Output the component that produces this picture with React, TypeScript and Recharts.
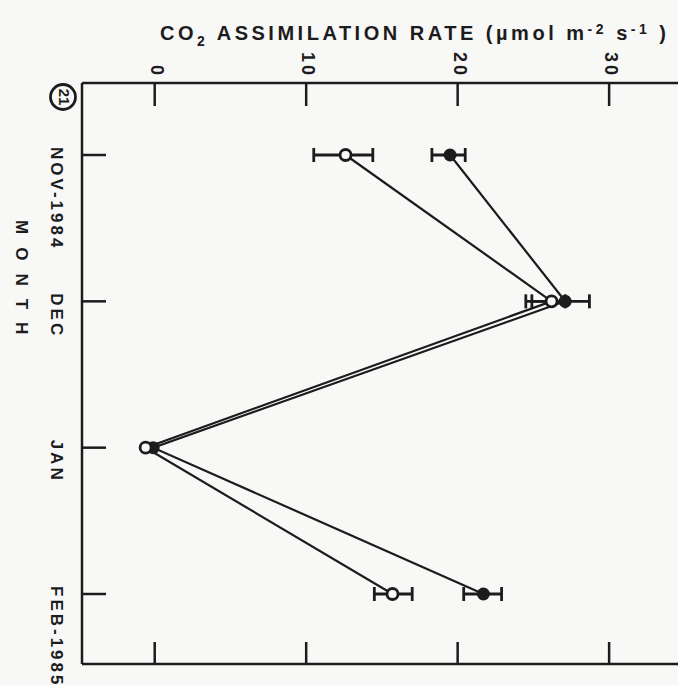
import { ComposedChart, ErrorBar, Line, XAxis, YAxis } from "recharts";

const months = ["NOV-1984", "DEC", "JAN", "FEB-1985"];
// open circles
const openRate = [12.6, 26.2, -0.6, 15.7];
const openErr: ([number, number] | null)[] = [[2.1, 1.8], [1.7, 0.9], null, [1.2, 1.3]];
// filled circles
const filledRate = [19.5, 27.1, -0.1, 21.7];
const filledErr: ([number, number] | null)[] = [[1.2, 1.0], [2.2, 1.6], null, [1.3, 1.2]];
const rateTicks = [0, 10, 20, 30];

const data = months.map((m, i) => ({
  month: m,
  open: openRate[i],
  openErr: openErr[i],
  filled: filledRate[i],
  filledErr: filledErr[i],
}));

const W = 720;
const H = 685;
// plot box: left 82, top 83, bottom 664
const TOP_H = 30;
const LEFT_W = 30;
const BOT_H = 20;
const M = { top: 83 - TOP_H, right: 20, bottom: 21 - BOT_H, left: 82 - LEFT_W };
const PLOT_TOP = 83;
const PLOT_BOTTOM = 664;
const PLOT_LEFT = 82;
const INK = "#1c1c1c";
const BG = "#f8f8f7";
const FONT = "'Liberation Sans', Arial, sans-serif";

const TopTick = ({ x, payload }: any) => (
  <g>
    <line x1={x} x2={x} y1={PLOT_TOP} y2={PLOT_TOP + 23} stroke={INK} strokeWidth={2.5} />
    <text
      x={x + 2}
      y={78}
      transform={`rotate(90, ${x + 2}, 78)`}
      textAnchor="end"
      dominantBaseline="central"
      fontFamily={FONT}
      fontWeight={700}
      fontSize={18}
      letterSpacing={3}
      fill={INK}
    >
      {payload.value}
    </text>
  </g>
);

const BottomTick = ({ x }: any) => (
  <line x1={x} x2={x} y1={PLOT_BOTTOM} y2={PLOT_BOTTOM - 22} stroke={INK} strokeWidth={2.5} />
);

const MonthTick = ({ y, payload }: any) => (
  <g>
    <line x1={PLOT_LEFT} x2={PLOT_LEFT + 24} y1={y} y2={y} stroke={INK} strokeWidth={2.5} />
    <text
      x={56}
      y={y - 8}
      transform={`rotate(90, 56, ${y - 8})`}
      textAnchor="start"
      dominantBaseline="central"
      fontFamily={FONT}
      fontWeight={700}
      fontSize={17}
      letterSpacing={3}
      fill={INK}
    >
      {payload.value}
    </text>
  </g>
);

const OpenDot = (p: any) => (
  <circle key={`o-${p.index}`} cx={p.cx} cy={p.cy} r={5.5} fill={BG} stroke={INK} strokeWidth={2.8} />
);
const FilledDot = (p: any) => (
  <circle key={`f-${p.index}`} cx={p.cx} cy={p.cy} r={6.5} fill={INK} stroke="none" />
);

export default function App() {
  return (
    <div
      style={{
        position: "fixed",
        left: 0,
        top: 0,
        width: 678,
        height: 685,
        overflow: "hidden",
        background: BG,
      }}
    >
      <ComposedChart width={W} height={H} data={data} layout="vertical" margin={M}>
        <XAxis
          xAxisId="top"
          type="number"
          orientation="top"
          domain={[-4.8, 36]}
          allowDataOverflow
          ticks={rateTicks}
          height={TOP_H}
          axisLine={{ stroke: INK, strokeWidth: 2.5 }}
          tickLine={false}
          tick={TopTick}
        />
        <XAxis
          xAxisId="bottom"
          type="number"
          orientation="bottom"
          domain={[-4.8, 36]}
          allowDataOverflow
          ticks={rateTicks}
          height={BOT_H}
          axisLine={{ stroke: INK, strokeWidth: 2.5 }}
          tickLine={false}
          tick={BottomTick}
        />
        <YAxis
          type="category"
          dataKey="month"
          width={LEFT_W}
          padding={{ top: 72, bottom: 70 }}
          axisLine={{ stroke: INK, strokeWidth: 2.5 }}
          tickLine={false}
          tick={MonthTick}
          interval={0}
        />
        <Line
          xAxisId="top"
          dataKey="filled"
          stroke={INK}
          strokeWidth={2.2}
          dot={FilledDot}
          activeDot={false}
          isAnimationActive={false}
        >
          <ErrorBar dataKey="filledErr" direction="x" width={7} stroke={INK} strokeWidth={2.8} />
        </Line>
        <Line
          xAxisId="top"
          dataKey="open"
          stroke={INK}
          strokeWidth={2.2}
          dot={OpenDot}
          activeDot={false}
          isAnimationActive={false}
        >
          <ErrorBar dataKey="openErr" direction="x" width={7} stroke={INK} strokeWidth={2.8} />
        </Line>
      </ComposedChart>
      <svg
        width={678}
        height={685}
        style={{ position: "absolute", left: 0, top: 0, pointerEvents: "none" }}
      >
        <text
          x={160}
          y={40}
          fontFamily={FONT}
          fontWeight={700}
          fontSize={20}
          fill={INK}
          textLength={506}
          lengthAdjust="spacing"
        >
          CO
          <tspan dy={6} fontSize={14}>2</tspan>
          <tspan dy={-6}> ASSIMILATION RATE (µmol m</tspan>
          <tspan dy={-6} fontSize={14}>-2</tspan>
          <tspan dy={6}> s</tspan>
          <tspan dy={-6} fontSize={14}>-1</tspan>
          <tspan dy={6}> )</tspan>
        </text>
        <text
          x={21}
          y={220}
          transform="rotate(90, 21, 220)"
          textAnchor="start"
          dominantBaseline="central"
          fontFamily={FONT}
          fontWeight={700}
          fontSize={17}
          letterSpacing={13}
          fill={INK}
        >
          MONTH
        </text>
        <circle cx={63} cy={97} r={12.5} fill="none" stroke={INK} strokeWidth={2.8} />
        <text
          x={64}
          y={97}
          transform="rotate(90, 64, 97)"
          textAnchor="middle"
          dominantBaseline="central"
          fontFamily={FONT}
          fontWeight={700}
          fontSize={15}
          fill={INK}
        >
          21
        </text>
      </svg>
    </div>
  );
}
